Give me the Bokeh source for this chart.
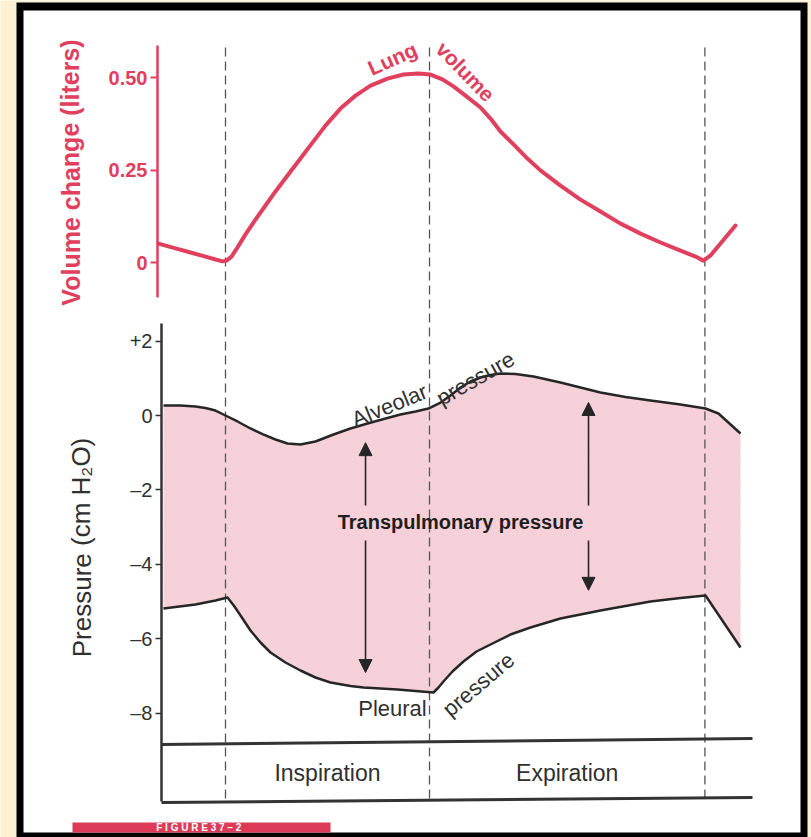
from bokeh.plotting import figure
from bokeh.models import Range1d, LinearAxis, FixedTicker, Arrow, NormalHead
from bokeh.core.properties import value
from bokeh.embed import file_html
from bokeh.resources import INLINE

# ---------------- data ----------------
phase_names = ["Inspiration", "Expiration"]
phase_bounds = [0.0, 2.0, 4.7]          # time (s) of the dashed phase boundaries

# Lung volume change (liters)
vol_t = [-0.657, -0.490, -0.343, -0.196, -0.098, -0.029, 0.010, 0.059, 0.118, 0.196,
         0.294, 0.392, 0.490, 0.608, 0.735, 0.853, 0.980, 1.127, 1.275, 1.422,
         1.588, 1.745, 1.892, 2.010, 2.127, 2.235, 2.353, 2.500, 2.598, 2.696,
         2.814, 2.941, 3.088, 3.284, 3.480, 3.676, 3.873, 4.069, 4.265, 4.461,
         4.608, 4.686, 4.755, 5.000]
vol_l = [0.051, 0.038, 0.027, 0.016, 0.008, 0.003, 0.005, 0.016, 0.041, 0.076,
         0.116, 0.154, 0.192, 0.235, 0.281, 0.324, 0.370, 0.416, 0.451, 0.478,
         0.497, 0.508, 0.511, 0.508, 0.495, 0.476, 0.451, 0.419, 0.389, 0.354,
         0.322, 0.286, 0.249, 0.208, 0.170, 0.138, 0.105, 0.078, 0.054, 0.032,
         0.016, 0.005, 0.019, 0.100]

# Alveolar pressure (cm H2O)
alv_t = [-0.608, -0.441, -0.294, -0.196, -0.098, 0.000, 0.118, 0.245, 0.363, 0.490,
         0.608, 0.735, 0.882, 1.059, 1.225, 1.392, 1.569, 1.716, 1.863, 1.990,
         2.108, 2.206, 2.304, 2.402, 2.500, 2.598, 2.696, 2.843, 3.020, 3.284,
         3.480, 3.676, 3.922, 4.167, 4.461, 4.706, 4.833, 5.049]
alv_p = [0.269, 0.269, 0.242, 0.202, 0.134, 0.000, -0.161, -0.349, -0.500, -0.645,
         -0.753, -0.780, -0.699, -0.511, -0.350, -0.215, -0.081, 0.027, 0.108, 0.188,
         0.349, 0.538, 0.753, 0.914, 1.022, 1.089, 1.129, 1.116, 1.048, 0.887,
         0.753, 0.618, 0.497, 0.403, 0.296, 0.188, 0.054, -0.484]

# Pleural pressure (cm H2O)
pl_t = [-0.608, -0.294, -0.098, 0.020, 0.088, 0.167, 0.245, 0.343, 0.441, 0.588,
        0.735, 0.882, 1.029, 1.225, 1.353, 1.520, 1.686, 1.863, 2.039, 2.088,
        2.137, 2.225, 2.333, 2.461, 2.598, 2.794, 2.990, 3.284, 3.676, 4.167,
        4.461, 4.706, 5.049]
pl_p = [-5.188, -5.081, -4.973, -4.892, -5.134, -5.457, -5.780, -6.102, -6.371, -6.640,
        -6.855, -7.043, -7.177, -7.272, -7.312, -7.339, -7.366, -7.406, -7.446, -7.312,
        -7.151, -6.882, -6.613, -6.344, -6.156, -5.887, -5.699, -5.457, -5.242, -5.000,
        -4.906, -4.839, -6.237]

# transpulmonary-pressure arrows
arrow_t = [1.373, 3.559]
arrow_top = [-0.73, 0.35]
arrow_bottom = [-6.91, -4.70]
arrow_gap = [-2.42, -3.36]      # where the shafts stop around the label

vol_ticks = [0, 0.25, 0.5]
vol_tick_labels = ["0", "0.25", "0.50"]
p_ticks = [2, 0, -2, -4, -6, -8]
p_tick_labels = ["+2", "0", "\u20132", "\u20134", "\u20136", "\u20138"]

# ---------------- layout / style ----------------
W, H = 811, 837
T0_PX, PX_PER_S = 225, 102.0
P0_PX, PX_PER_CM = 415, 37.2
V0_PX, PX_PER_L = 262, 370.0

RED = "#e0405e"
DARK = "#262626"
TXT = "#303030"
PINK = "#f7d3db"
CREAM = "#fcf1d2"
FONT = "Liberation Sans"


def tx(px):
    return (px - T0_PX) / PX_PER_S


p = figure(width=W, height=H, title=None,
           x_range=Range1d(tx(0), tx(W)),
           y_range=Range1d((P0_PX - H) / PX_PER_CM, P0_PX / PX_PER_CM),
           x_axis_location=None, y_axis_location=None,
           output_backend="svg", toolbar_location=None, min_border=0,
           outline_line_color=None, background_fill_color=CREAM,
           border_fill_color=CREAM)
p.xgrid.visible = False
p.ygrid.visible = False
p.extra_y_ranges = {
    "vol": Range1d((V0_PX - H) / PX_PER_L, V0_PX / PX_PER_L),
    "py": Range1d(H, 0),
}
p.extra_x_ranges = {"px": Range1d(0, W)}

# page frame (cream margin, black border, white page)
p.quad(left=[16], right=[807], top=[2], bottom=[850], x_range_name="px", y_range_name="py",
       fill_color="black", line_color=None, level="underlay")
p.quad(left=[23], right=[800], top=[10], bottom=[832], x_range_name="px", y_range_name="py",
       fill_color="white", line_color=None, level="underlay")
p.quad(left=[72], right=[330], top=[822], bottom=[832], x_range_name="px", y_range_name="py",
       fill_color="#dc3a57", line_color=None, level="underlay")
p.text(x=[201], y=[827], text=["F I G U R E   3 7 \u2013 2"], x_range_name="px", y_range_name="py",
       text_color="white", text_font=value(FONT), text_font_size=value("10px"),
       text_font_style="bold", text_baseline="middle", text_align="center")

# transpulmonary pressure band
p.patch(alv_t + pl_t[::-1], alv_p + pl_p[::-1], fill_color=PINK, line_color=None,
        hatch_pattern="left_diagonal_line", hatch_color="#e8b4c1", hatch_alpha=0.35,
        hatch_scale=5, hatch_weight=0.6)

# phase boundaries
p.segment(x0=phase_bounds, x1=phase_bounds, y0=[47] * 3, y1=[801] * 3, y_range_name="py",
          line_color="#555555", line_width=1.3, line_dash="9 5")

# phase box
p.segment(x0=[161, 161], y0=[744, 802], x1=[752, 752], y1=[738, 797],
          x_range_name="px", y_range_name="py", line_color="#333333", line_width=3)
p.text(x=[(phase_bounds[0] + phase_bounds[1]) / 2, (phase_bounds[1] + phase_bounds[2]) / 2],
       y=[-9.6, -9.6], text=phase_names, text_color=TXT, text_font=value(FONT),
       text_font_size=value("23px"), text_align="center", text_baseline="middle")

# curves
p.line(vol_t, vol_l, y_range_name="vol", line_color=RED, line_width=4,
       line_join="round", line_cap="round")
p.line(alv_t, alv_p, line_color=DARK, line_width=2.5, line_join="round")
p.line(pl_t, pl_p, line_color=DARK, line_width=2.5, line_join="round")

# arrows
for t, top, bot in zip(arrow_t, arrow_top, arrow_bottom):
    p.add_layout(Arrow(end=NormalHead(size=13, fill_color=DARK, line_color=DARK),
                       x_start=t, y_start=arrow_gap[0], x_end=t, y_end=top,
                       line_color=DARK, line_width=1.6))
    p.add_layout(Arrow(end=NormalHead(size=13, fill_color=DARK, line_color=DARK),
                       x_start=t, y_start=arrow_gap[1], x_end=t, y_end=bot,
                       line_color=DARK, line_width=1.6))

# curve labels
p.text(x=[1.637], y=[0.551], text=["Lung"], angle=0.42, y_range_name="vol",
       text_color=RED, text_font=value(FONT), text_font_size=value("21px"),
       text_font_style="bold", text_align="center", text_baseline="middle")
p.text(x=[2.353], y=[0.516], text=["volume"], angle=-0.80, y_range_name="vol",
       text_color=RED, text_font=value(FONT), text_font_size=value("21px"),
       text_font_style="bold", text_align="center", text_baseline="middle")
p.text(x=[1.608, 2.451, 2.480], y=[0.269, 0.995, -7.230],
       text=["Alveolar", "pressure", "pressure"], angle=[0.39, 0.52, 0.70],
       text_color=TXT, text_font=value(FONT), text_font_size=value("22px"),
       text_align="center", text_baseline="middle")
p.text(x=[1.637], y=[-7.876], text=["Pleural"], text_color=TXT, text_font=value(FONT),
       text_font_size=value("22px"), text_align="center", text_baseline="middle")
p.text(x=[2.304], y=[-2.876], text=["Transpulmonary pressure"], text_color="#1e1e1e",
       text_font=value(FONT), text_font_size=value("20px"), text_font_style="bold",
       text_align="center", text_baseline="middle")

# axis titles
p.text(x=[70], y=[172], text=["Volume change (liters)"], angle=1.5708,
       x_range_name="px", y_range_name="py", text_color=RED, text_font=value(FONT),
       text_font_size=value("25px"), text_font_style="bold",
       text_align="center", text_baseline="middle")
p.text(x=[81], y=[547], text=["Pressure (cm H\u2082O)"], angle=1.5708,
       x_range_name="px", y_range_name="py", text_color=TXT, text_font=value(FONT),
       text_font_size=value("26px"), text_align="center", text_baseline="middle")

# axes
vol_axis = LinearAxis(y_range_name="vol", fixed_location=tx(157), bounds=(-0.095, 0.586),
                      ticker=FixedTicker(ticks=vol_ticks),
                      major_label_overrides=dict(zip(vol_ticks, vol_tick_labels)),
                      axis_line_color=RED, axis_line_width=2.5,
                      major_tick_line_color=RED, major_tick_line_width=2,
                      major_tick_in=0, major_tick_out=7, minor_tick_out=0, minor_tick_in=0,
                      major_label_standoff=3, major_label_text_color=RED,
                      major_label_text_font=FONT, major_label_text_font_size="20px",
                      major_label_text_font_style="bold")
p.add_layout(vol_axis, "left")

p_axis = LinearAxis(fixed_location=tx(161), bounds=(-10.376, 2.473),
                    ticker=FixedTicker(ticks=p_ticks),
                    major_label_overrides=dict(zip(p_ticks, p_tick_labels)),
                    axis_line_color="#333333", axis_line_width=2.5,
                    major_tick_line_color="#333333", major_tick_line_width=1.5,
                    major_tick_in=0, major_tick_out=6, minor_tick_out=0, minor_tick_in=0,
                    major_label_standoff=3, major_label_text_color=TXT,
                    major_label_text_font=FONT, major_label_text_font_size="20px")
p.add_layout(p_axis, "left")

open("out.html", "w").write(file_html(p, INLINE))
